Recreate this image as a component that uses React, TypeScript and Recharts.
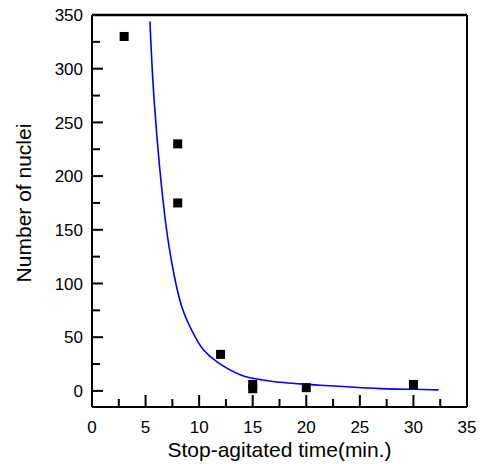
// Nuclei count vs stop-agitated time: scatter + fitted decay curve

import { ComposedChart, XAxis, YAxis, Scatter, Line, ReferenceLine, Label } from 'recharts';

const timePoints = [3, 8, 8, 12, 15, 15, 20, 30];
const nucleiPoints = [330, 230, 175, 34, 6, 2, 3, 6];

const fitTime = [5.41, 5.84, 6.78, 7.68, 8.49, 9.64, 10.42, 11.67, 13.84, 15.71, 17.57, 19.4, 21.3, 26.9, 30, 32.35];
const fitNuclei = [344, 265, 164, 107, 75, 50, 38, 27, 15, 10.5, 8, 6.5, 5.2, 2.1, 1.5, 0.9];

const xTicks = [0, 2.5, 5, 7.5, 10, 12.5, 15, 17.5, 20, 22.5, 25, 27.5, 30, 32.5, 35];
const yTicks = [0, 25, 50, 75, 100, 125, 150, 175, 200, 225, 250, 275, 300, 325, 350];

const FONT = '"Liberation Sans", Arial, sans-serif';

const scatterData = timePoints.map((t, i) => ({ t, n: nucleiPoints[i] }));
const fitData = fitTime.map((t, i) => ({ t, n: fitNuclei[i] }));

function XTick(props: any) {
  const { x, y, payload } = props;
  const major = payload.value % 5 === 0;
  return (
    <g>
      <line x1={x} x2={x} y1={y} y2={y - (major ? 12 : 8)} stroke="#000" strokeWidth={2} />
      {major && (
        <text x={x} y={y + 26} textAnchor="middle" fontSize={17} fontFamily={FONT} fill="#000">
          {payload.value}
        </text>
      )}
    </g>
  );
}

function YTick(props: any) {
  const { x, y, payload } = props;
  const major = payload.value % 50 === 0;
  return (
    <g>
      <line x1={x} x2={x + (major ? 11 : 8)} y1={y} y2={y} stroke="#000" strokeWidth={2} />
      {major && (
        <text x={x - 9} y={y} dy="0.36em" textAnchor="end" fontSize={17} fontFamily={FONT} fill="#000">
          {payload.value}
        </text>
      )}
    </g>
  );
}

function Square(props: any) {
  const { cx, cy } = props;
  return <rect x={cx - 4.5} y={cy - 4.5} width={9} height={9} fill="#000" />;
}

export default function App() {
  return (
    <div style={{ position: 'absolute', left: 0, top: 0, background: '#fff' }}>
      <ComposedChart width={486} height={464} margin={{ top: 15, right: 19, bottom: 0, left: 0 }}>
        <XAxis
          dataKey="t"
          type="number"
          domain={[0, 35]}
          ticks={xTicks}
          interval={0}
          height={57}
          tickSize={0}
          tickMargin={0}
          tickLine={false}
          axisLine={{ stroke: '#000', strokeWidth: 2 }}
          tick={<XTick />}
        >
          <Label
            content={(p: any) => {
              const vb = p.viewBox;
              return (
                <text x={vb.x + vb.width / 2} y={vb.y + 50} textAnchor="middle" fontSize={21} fontFamily={FONT} fill="#000">
                  Stop-agitated time(min.)
                </text>
              );
            }}
          />
        </XAxis>
        <YAxis
          dataKey="n"
          type="number"
          domain={[-15, 350]}
          ticks={yTicks}
          interval={0}
          width={92}
          tickSize={0}
          tickMargin={0}
          tickLine={false}
          axisLine={{ stroke: '#000', strokeWidth: 2 }}
          tick={<YTick />}
        >
          <Label
            content={(p: any) => {
              const vb = p.viewBox;
              const cy = vb.y + vb.height / 2 - 8;
              return (
                <text
                  x={31}
                  y={cy}
                  transform={`rotate(-90 31 ${cy})`}
                  textAnchor="middle"
                  fontSize={21}
                  fontFamily={FONT}
                  fill="#000"
                >
                  Number of nuclei
                </text>
              );
            }}
          />
        </YAxis>
        <ReferenceLine y={350} stroke="#000" strokeWidth={2.5} ifOverflow="extendDomain" />
        <ReferenceLine x={35} stroke="#000" strokeWidth={2} ifOverflow="extendDomain" />
        <Line
          data={fitData}
          dataKey="n"
          type="natural"
          stroke="#0000ff"
          strokeWidth={1.6}
          dot={false}
          activeDot={false}
          isAnimationActive={false}
        />
        <Scatter data={scatterData} dataKey="n" shape={<Square />} isAnimationActive={false} />
      </ComposedChart>
    </div>
  );
}
